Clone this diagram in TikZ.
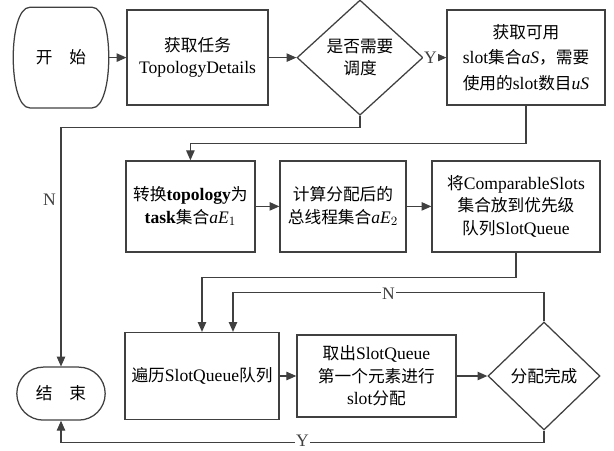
\documentclass[tikz,border=0pt]{standalone}
\usepackage{fontspec}
\setmainfont{Liberation Serif}
\newfontfamily\cjk[Scale=0.95]{Noto Sans CJK SC}
\usepackage{tikz}
\usetikzlibrary{arrows.meta, shapes.geometric, shapes.misc, positioning}

\definecolor{linegray}{HTML}{404040}

\begin{document}
\begin{tikzpicture}[
  every node/.style = {font=\fontsize{12.5}{16}\selectfont},
  procbox/.style = {rectangle, draw=linegray, line width=0.9pt,
                    align=center, inner sep=2pt},
  termbox/.style = {rounded rectangle, draw=linegray, line width=0.9pt,
                    align=center, inner sep=2pt},
  decbox/.style  = {diamond, draw=linegray, line width=0.9pt,
                    align=center, inner sep=0pt},
  outline/.style = {draw=linegray, line width=0.9pt},
  lbl/.style = {fill=white, inner sep=0.5pt},
  arr/.style = {-{Triangle[length=7pt, width=6pt]}, line width=0.8pt, linegray},
]
\useasboundingbox (0,0) rectangle (15.35,-11.25);

%% -- first row --------------------------------------------------------------
\node[rectangle, align=center, minimum width=2.35cm, minimum height=2.5cm]
  at (1.525, -1.44) (start) {\cjk 开\hspace{1em}始};
% bulging sides of the start terminal
\draw[outline]
  ([xshift=0.4cm]start.north west) -- ([xshift=-0.4cm]start.north east)
  .. controls ([xshift=0.15cm]start.north east)
          and ([xshift=0.15cm]start.south east)
  .. ([xshift=-0.4cm]start.south east)
  -- ([xshift=0.4cm]start.south west)
  .. controls ([xshift=-0.15cm]start.south west)
          and ([xshift=-0.15cm]start.north west)
  .. cycle;

\node[procbox, minimum width=3.525cm, minimum height=2.375cm]
  at (4.94, -1.44) (task) {{\cjk 获取任务}\\TopologyDetails};

\node[decbox, minimum width=3.15cm, minimum height=2.88cm]
  at (9.0, -1.44) (dec1) {{\cjk 是否需要}\\{\cjk 调度}};

\node[procbox, minimum width=3.95cm, minimum height=2.375cm]
  at (13.15, -1.44) (getslot) {
  {\cjk 获取可用}\\[2pt]
  slot{\cjk 集合}\textit{aS}{\cjk ，需要}\\[2pt]
  {\cjk 使用的}slot{\cjk 数目}\textit{uS}
};

%% -- second row -------------------------------------------------------------
\node[procbox, minimum width=3.225cm, minimum height=2.275cm]
  at (4.76, -5.16) (topo) {
  {\cjk 转换}\textbf{topology}{\cjk 为}\\
  \textbf{task}{\cjk 集合}\textit{aE}$_1$
};

\node[procbox, minimum width=3.15cm, minimum height=2.275cm]
  at (8.575, -5.16) (threads) {
  {\cjk 计算分配后的}\\
  {\cjk 总线程集合}\textit{aE}$_2$
};

\node[procbox, minimum width=4.2cm, minimum height=2.275cm]
  at (12.9, -5.16) (queue) {
  {\cjk 将}ComparableSlots\\
  {\cjk 集合放到优先级}\\
  {\cjk 队列}SlotQueue
};

%% -- third row --------------------------------------------------------------
\node[termbox, rounded rectangle arc length=180,
      minimum width=2.35cm, minimum height=1.325cm]
  at (1.525, -9.84) (stop) {\cjk 结\hspace{1em}束};

\node[procbox, minimum width=3.85cm, minimum height=2.175cm]
  at (5.05, -9.40) (trav) {{\cjk 遍历}SlotQueue{\cjk 队列}};

\node[procbox, minimum width=3.975cm, minimum height=2.05cm]
  at (9.41, -9.40) (take) {
  {\cjk 取出}SlotQueue\\
  {\cjk 第一个元素进行}\\
  slot{\cjk 分配}
};

\node[decbox, minimum width=2.8cm, minimum height=2.7cm]
  at (13.6, -9.40) (done) {\cjk 分配完成};

%% -- straight arrows --------------------------------------------------------
\draw[arr] (start) -- (task);
\draw[arr] (task)  -- (dec1);
\draw[arr] (dec1.east) -- node[lbl, pos=0.3] {Y} (getslot.west);
\draw[arr] (topo)    -- (threads);
\draw[arr] (threads) -- (queue);
\draw[arr] (trav) -- (take);
\draw[arr] (take) -- (done.west);

%% -- row changes ------------------------------------------------------------
\draw[arr] (getslot.south) -- ++(0,-0.95) -| (topo.north);
\draw[arr] (queue.south) -- ++(0,-0.625) -| (trav.north);

%% -- no scheduling needed: straight to the end ------------------------------
\draw[arr] (dec1.south) -- ++(0,-0.3) -| node[pos=0.65, left] {N} (stop.north);

%% -- loop back while not finished -------------------------------------------
\draw[arr] (done.north) -- ++(0,0.725)
  -| node[lbl, pos=0.25, yshift=-1pt] {N} ([xshift=0.775cm]trav.north);

%% -- finished ---------------------------------------------------------------
\draw[arr] (done.south) -- ++(0,-0.3)
  -| node[lbl, pos=0.25, yshift=1.5pt] {Y} (stop.south);

\end{tikzpicture}
\end{document}
